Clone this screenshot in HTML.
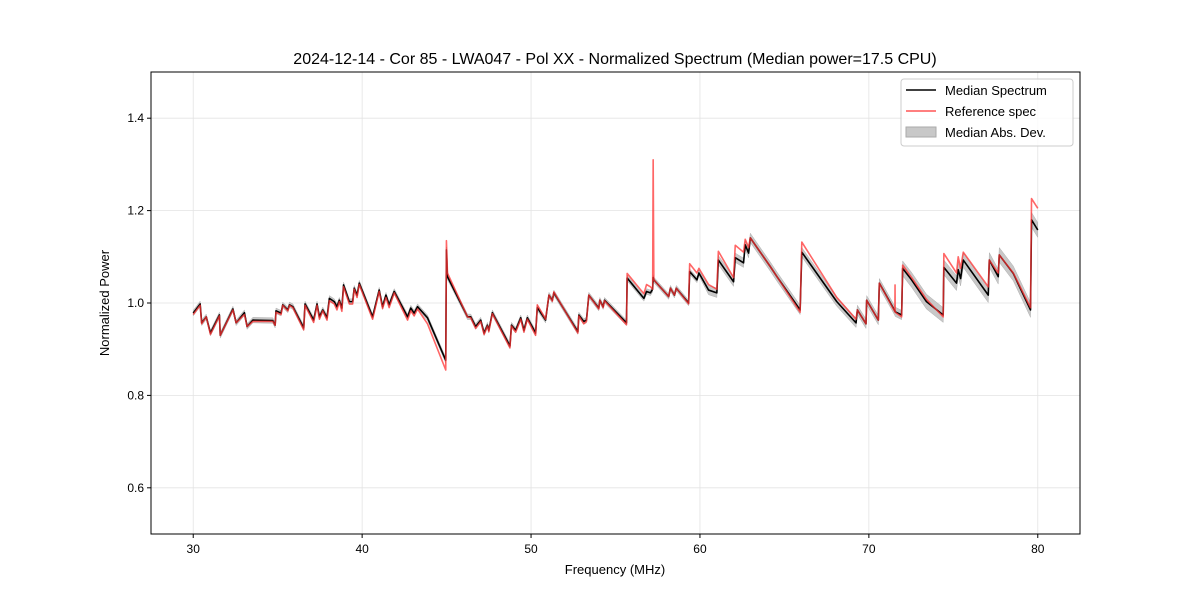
<!DOCTYPE html>
<html><head><meta charset="utf-8"><style>
body{margin:0;background:#fff;}
svg{font-family:"Liberation Sans","DejaVu Sans",sans-serif;}
</style></head><body>
<svg id="chart" width="1200" height="600" xmlns="http://www.w3.org/2000/svg">
<rect width="1200" height="600" fill="#fff"/>
<text x="615" y="64" font-size="16" text-anchor="middle">2024-12-14 - Cor 85 - LWA047 - Pol XX - Normalized Spectrum (Median power=17.5 CPU)</text>
<g id="grid"></g>
<g id="plot"></g>
<rect x="151" y="72" width="929" height="462" fill="none" stroke="#000" stroke-width="1"/>
<g id="axes"></g>
<text x="615" y="574" font-size="13" text-anchor="middle">Frequency (MHz)</text>
<text x="109" y="303" font-size="13" text-anchor="middle" transform="rotate(-90 109 303)">Normalized Power</text>
<g>
<rect x="901" y="79" width="172" height="67" rx="3" fill="#fff" fill-opacity="0.8" stroke="#ccc"/>
<line x1="906" y1="90" x2="936" y2="90" stroke="#000" stroke-width="1.6"/>
<text x="945" y="95" font-size="13">Median Spectrum</text>
<line x1="906" y1="111" x2="936" y2="111" stroke="#ff5555" stroke-width="1.6"/>
<text x="945" y="116" font-size="13">Reference spec</text>
<rect x="906" y="127" width="30" height="10" fill="#c8c8c8" stroke="#aaa"/>
<text x="945" y="137" font-size="13">Median Abs. Dev.</text>
</g>
</svg>
<script>
const freqs=[30.0,30.41,30.5,30.77,31.02,31.55,31.6,32.35,32.54,33.03,33.19,33.53,34.71,34.85,34.9,35.2,35.3,35.6,35.7,35.9,36.54,36.62,37.13,37.33,37.47,37.67,37.92,38.06,38.35,38.51,38.65,38.8,38.9,39.24,39.44,39.53,39.7,39.83,40.62,41.01,41.21,41.41,41.6,41.9,42.69,42.88,43.08,43.28,43.87,44.95,44.99,45.05,46.24,46.43,46.72,47.02,47.22,47.42,47.5,47.71,48.75,48.84,49.09,49.39,49.58,49.78,50.27,50.37,50.86,51.06,51.26,51.35,52.77,52.83,53.12,53.28,53.42,54.01,54.07,54.27,54.35,55.65,55.69,56.68,56.84,57.07,57.2,57.23,57.27,58.15,58.25,58.49,58.6,59.33,59.39,59.82,59.94,60.51,61.0,61.09,61.99,62.09,62.58,62.68,62.88,62.98,64.16,64.56,65.93,66.03,68.1,69.24,69.32,69.83,69.87,70.56,70.62,71.54,71.55,71.56,71.94,72.0,72.53,73.41,74.4,74.44,75.19,75.29,75.43,75.59,77.07,77.13,77.66,77.72,78.55,79.57,79.63,80.0];
const median=[.978,.998,.957,.970,.935,.974,.930,.987,.957,.979,.949,.963,.962,.952,.983,.978,.996,.985,.996,.992,.946,.998,.963,.998,.970,.985,.968,1.010,1.003,.992,1.006,.989,1.039,1.003,1.003,1.032,1.017,1.043,.970,1.028,.992,1.017,.996,1.025,.970,.989,.978,.992,.968,.876,1.115,1.057,.970,.970,.949,.963,.935,.952,.941,.979,.907,.952,.941,.968,.941,.968,.935,.990,.963,1.017,1.006,1.022,.938,.974,.960,.963,1.017,.989,1.006,.992,1.006,.957,1.054,1.010,1.025,1.022,1.030,1.055,1.050,1.014,1.032,1.017,1.032,1.000,1.068,1.050,1.065,1.028,1.022,1.093,1.046,1.098,1.087,1.126,1.108,1.141,1.079,1.057,.985,1.110,1.003,.957,.985,.955,1.006,.963,1.043,.983,.982,.981,.974,1.075,1.050,1.003,.974,1.077,1.043,1.072,1.053,1.093,1.017,1.093,1.057,1.104,1.064,.985,1.180,1.158];
const reference=[.975,.995,.955,.970,.932,.972,.930,.985,.957,.975,.949,.960,.960,.952,.980,.975,.995,.983,.995,.990,.942,.995,.958,.995,.965,.983,.963,1.005,.998,.985,1.003,.982,1.035,.998,.998,1.030,1.012,1.040,.965,1.025,.988,1.012,.990,1.022,.963,.983,.972,.987,.955,.855,1.135,1.065,.970,.968,.945,.960,.932,.950,.938,.977,.903,.950,.937,.965,.937,.965,.930,.996,.965,1.017,1.004,1.024,.935,.972,.955,.960,1.017,.987,1.006,.990,1.005,.953,1.064,1.020,1.040,1.035,1.030,1.31,1.050,1.014,1.032,1.017,1.032,.998,1.085,1.065,1.075,1.040,1.030,1.112,1.055,1.125,1.110,1.138,1.120,1.141,1.079,1.057,.980,1.132,1.012,.965,.985,.955,1.006,.963,1.043,.981,1.039,.980,.970,1.082,1.055,1.008,.970,1.107,1.065,1.100,1.075,1.110,1.035,1.093,1.065,1.104,1.065,.990,1.226,1.205];
const madBreaks=[60,72,81];
const madValues=[0.006,0.010,0.016];
const xTicks=[30,40,50,60,70,80];
const yTicks=[0.6,0.8,1.0,1.2,1.4];

const X0=151,X1=1080,Y0=534,Y1=72,XMIN=27.5,XMAX=82.5,YMIN=0.5,YMAX=1.5;
const xs=v=>X0+(v-XMIN)/(XMAX-XMIN)*(X1-X0);
const ys=v=>Y0-(v-YMIN)/(YMAX-YMIN)*(Y0-Y1);
const NS='http://www.w3.org/2000/svg';
function mk(tag,attrs,parent){const e=document.createElementNS(NS,tag);for(const k in attrs)e.setAttribute(k,attrs[k]);parent.appendChild(e);return e;}
const grid=document.getElementById('grid'),axes=document.getElementById('axes'),plot=document.getElementById('plot');
xTicks.forEach(t=>{const x=xs(t);
 const g=mk('line',{x1:x,x2:x,y1:Y1,y2:Y0,stroke:'#e3e3e3','stroke-width':0.8},grid);
 
 
 mk('line',{x1:x,x2:x,y1:Y0,y2:Y0+4,stroke:'#000'},axes);
 const l=mk('text',{x:x,y:Y0+19,'font-size':12,'text-anchor':'middle'},axes);l.textContent=t;
 
 
});
yTicks.forEach(t=>{const y=ys(t);
 const g=mk('line',{x1:X0,x2:X1,y1:y,y2:y,stroke:'#e3e3e3','stroke-width':0.8},grid);
 
 
 mk('line',{x1:X0-4,x2:X0,y1:y,y2:y,stroke:'#000'},axes);
 const l=mk('text',{x:X0-7,y:y+4,'font-size':12,'text-anchor':'end'},axes);l.textContent=t.toFixed(1);
 
 
});
function mad(f){for(let i=0;i<madBreaks.length;i++)if(f<madBreaks[i])return madValues[i];return madValues[madValues.length-1];}
let up=[],dn=[];
freqs.forEach((f,i)=>{up.push(xs(f)+','+ys(median[i]+mad(f)));dn.unshift(xs(f)+','+ys(median[i]-mad(f)));});
const band=mk('polygon',{points:up.concat(dn).join(' '),fill:'#c8c8c8',stroke:'#b0b0b0','stroke-width':0.5},plot);


const medLine=mk('polyline',{points:freqs.map((f,i)=>xs(f)+','+ys(median[i])).join(' '),fill:'none',stroke:'#000','stroke-width':1.6,'stroke-linejoin':'round'},plot);


const refLine=mk('polyline',{points:freqs.map((f,i)=>xs(f)+','+ys(reference[i])).join(' '),fill:'none',stroke:'#ff3333','stroke-opacity':0.75,'stroke-width':1.6,'stroke-linejoin':'round'},plot);


</script>
</body></html>
